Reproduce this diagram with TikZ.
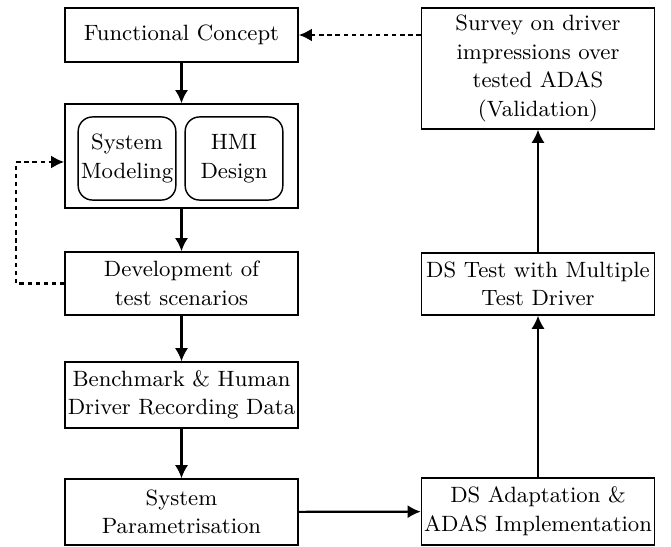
\documentclass[tikz,border=0pt]{standalone}
\usepackage{tikz,xcolor}
\usetikzlibrary{shapes,arrows,calc,arrows.meta}

\begin{document}
\begin{tikzpicture}[x=0.42pt,y=-0.42pt,
  every node/.style={font=\fontsize{9.3pt}{12pt}\selectfont},
  blk/.style={draw,line width=0.6pt,align=center,inner sep=1pt,minimum width=97.9pt},
  sub/.style={draw,line width=0.6pt,rounded corners=6pt,align=center,inner sep=1pt,minimum width=41pt,minimum height=34.9pt},
  flow/.style={line width=0.9pt,-{Latex[length=5.5pt,width=5.5pt]}},
  back/.style={line width=1.1pt,dash pattern=on 1.8pt off 1.6pt,-{Latex[length=5.5pt,width=5.5pt]}}]
\useasboundingbox (0,0) rectangle (671,547);
\node[blk,minimum height=22.7pt] (func) at (181.5,35) {Functional Concept};
\node[blk,minimum height=43.7pt] (cont) at (181.5,156) {};
\node[sub] (sysmod) at (127,158.5) {System\\Modeling};
\node[sub] (hmi) at (234,158.5) {HMI\\Design};
\node[blk,minimum height=26.5pt] (dev) at (181.5,283.5) {Development of\\test scenarios};
\node[blk,minimum height=27.7pt] (bench) at (181.5,395) {Benchmark \& Human\\Driver Recording Data};
\node[blk,minimum height=27.7pt] (param) at (181.5,512) {System\\Parametrisation};
\node[blk,minimum height=50.8pt] (survey) at (538,68.5) {Survey on driver\\impressions over\\tested ADAS\\(Validation)};
\node[blk,minimum height=26pt] (dstest) at (538,284) {DS Test with Multiple\\Test Driver};
\node[blk,minimum height=28pt] (adapt) at (538,511.5) {DS Adaptation \&\\ADAS Implementation};
\coordinate (loop) at (16,0);
\draw[flow] (func) -- (cont);
\draw[flow] (cont) -- (dev);
\draw[flow] (dev) -- (bench);
\draw[flow] (bench) -- (param);
\draw[flow] (param) -- (adapt);
\draw[flow] (adapt) -- (dstest);
\draw[flow] (dstest) -- (survey);
\draw[back] (func.east -| survey.west) -- (func.east);
\draw[back] (dev.west) -- (loop |- dev.west) -- ($(loop |- cont.west)+(0,6)$) -- ($(cont.west)+(0,6)$);
\end{tikzpicture}
\end{document}
